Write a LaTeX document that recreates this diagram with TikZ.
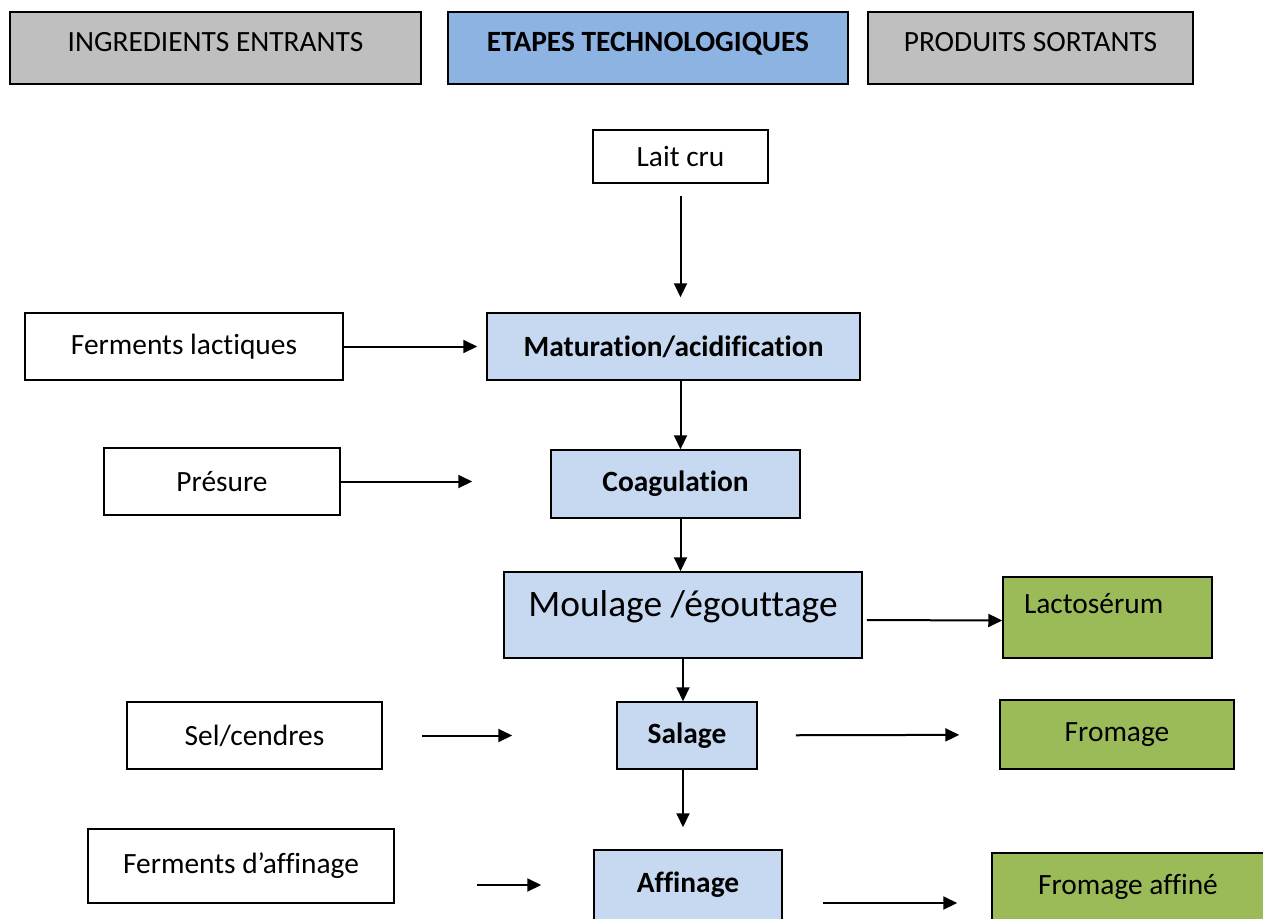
\documentclass[tikz,border=0pt]{standalone}
\usepackage{fontspec}
\setmainfont{Carlito}[RawFeature={-liga;-clig;-calt;-dlig}]
\usetikzlibrary{arrows.meta}
\definecolor{headgray}{HTML}{BFBFBF}
\definecolor{headblue}{HTML}{8DB3E2}
\definecolor{stepblue}{HTML}{C6D9F1}
\definecolor{outgreen}{HTML}{9BBB59}
\tikzstyle{header} = [rectangle, minimum height=72pt, text depth=13pt, text centered, draw=black, line width=1.5pt, fill=headgray]
\tikzstyle{input} = [rectangle, text centered, draw=black, line width=1.5pt, fill=white]
\tikzstyle{stage} = [rectangle, text centered, draw=black, line width=1.5pt, fill=stepblue, font=\fontsize{29.4pt}{35pt}\selectfont\bfseries]
\tikzstyle{output} = [rectangle, text centered, draw=black, line width=1.5pt, fill=outgreen]
\tikzstyle{arrow} = [line width=2pt,-{Triangle[length=14pt,width=13pt]}]

\begin{document}
\begin{tikzpicture}[x=1pt, y=-1pt, font=\fontsize{29.4pt}{35pt}\selectfont]
\useasboundingbox (0,0) rectangle (1263,918);

% Headers
\node (ingr) at (215.5,48) [header, minimum width=411pt] {INGREDIENTS ENTRANTS};
\node (etapes) at (648,48) [header, minimum width=400pt, fill=headblue, font=\fontsize{29.4pt}{35pt}\selectfont\bfseries] {ETAPES TECHNOLOGIQUES};
\node (produits) at (1030.5,48) [header, minimum width=325pt] {PRODUITS SORTANTS};

% Nodes
\node (lait) at (680.5,156.5) [input, minimum width=175pt, minimum height=53pt] {Lait cru};
\node (matur) at (673.5,346.5) [stage, minimum width=373pt, minimum height=67pt] {Maturation/acidification};
\node (ferml) at (184,346.5) [input, minimum width=318pt, minimum height=67pt] {Ferments lactiques};
\node (coag) at (675.5,484) [stage, minimum width=249pt, minimum height=68pt] {Coagulation};
\node (presure) at (222,481.5) [input, minimum width=236pt, minimum height=67pt] {Présure};
\node (moulage) at (683,615) [stage, minimum width=358pt, minimum height=86pt, text depth=22pt, font=\fontsize{37.4pt}{44pt}\selectfont] {Moulage /égouttage};
\node (lacto) at (1107.5,617.5) [output, text width=167pt, inner xsep=21pt, align=left, minimum height=81pt, text depth=28pt] {Lactosérum};
\node (salage) at (687,735.5) [stage, minimum width=140pt, minimum height=67pt] {Salage};
\node (sel) at (254.5,735.5) [input, minimum width=255pt, minimum height=67pt] {Sel/cendres};
\node (fromage) at (1117,734.5) [output, minimum width=234pt, minimum height=69pt] {Fromage};
\node (affinage) at (688,885) [stage, minimum width=188pt, minimum height=70pt] {Affinage};
\node (fermaff) at (241,866) [input, minimum width=306pt, minimum height=74pt] {Ferments d’affinage};
\node (fromaff) at (1128,886.5) [output, minimum width=272pt, minimum height=67pt] {Fromage affiné};

% Arrows
\draw [arrow, shorten <=12pt, shorten >=15pt] (lait) -- (lait |- matur.north);
\draw [arrow, shorten >=9pt] (ferml) -- (matur);
\draw [arrow] (matur.south -| lait) -- (lait |- coag.north);
\draw [arrow, shorten >=78pt] (presure) -- (presure -| coag.west);
\draw [arrow] (coag.south -| lait) -- (lait |- moulage.north);
\draw [arrow, shorten <=4pt] ([yshift=-5pt]moulage.east) -- ([yshift=-3pt]lacto.west);
\draw [arrow] (moulage) -- (moulage |- salage.north);
\draw [arrow, shorten <=39pt, shorten >=104pt] (sel) -- (salage);
\draw [arrow, shorten <=38pt, shorten >=40pt] (salage) -- (fromage);
\draw [arrow, shorten >=22pt] (salage.south -| moulage) -- (moulage |- affinage.north);
\draw [arrow, shorten <=82pt, shorten >=52pt] (fermaff.east |- affinage) -- (affinage.west);
\draw [arrow, shorten <=40pt, shorten >=34pt] ([yshift=-18pt]affinage.east) -- ([yshift=-18pt]affinage.east -| fromaff.west);

\end{tikzpicture}
\end{document}
